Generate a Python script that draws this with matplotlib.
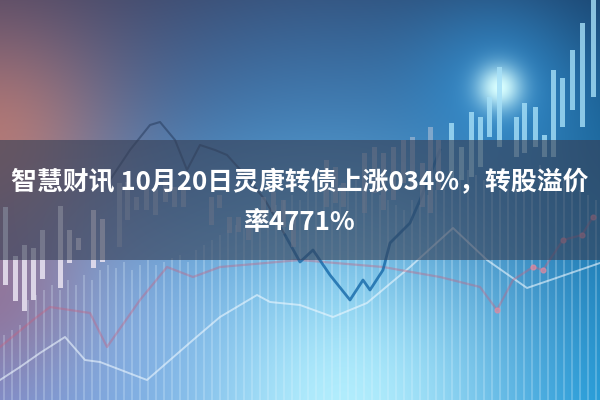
import numpy as np
import matplotlib
matplotlib.use("Agg")
import matplotlib.pyplot as plt
from matplotlib.patches import Rectangle

plt.rcParams['font.family'] = ['Noto Sans CJK SC', 'DejaVu Sans']

# titulo
TITLE_1 = "智慧财讯 10月20日灵康转债上涨034%，转股溢价"
TITLE_2 = "率4771%"

# velas: posicao x, topo, base (pixels, y para baixo)
left_x = [5, 15, 24, 33, 42, 60, 69, 78, 93, 102]
left_top = [207, 256, 245, 248, 230, 206, 230, 238, 210, 219]
left_bot = [285, 301, 311, 300, 279, 288, 263, 250, 268, 262]

mid_x = [119, 127, 136, 146, 155, 165, 174, 183, 211, 219, 229, 238, 248, 263, 273, 283, 293,
         326, 335, 343, 364, 374, 383, 393, 403, 412, 422, 430, 438]
mid_top = [183, 182, 197, 188, 190, 180, 187, 188, 197, 195, 217, 217, 220, 197, 192, 200, 213,
           160, 167, 183, 153, 147, 153, 147, 140, 137, 163, 127, 140]
mid_bot = [247, 220, 210, 210, 215, 202, 207, 207, 225, 208, 233, 232, 240, 223, 212, 227, 247,
           207, 203, 207, 213, 193, 210, 200, 183, 187, 207, 213, 190]

right_x = [451, 461, 471, 480, 489, 499, 516, 524, 535, 544, 553, 562, 572, 582, 593]
right_top = [123, 147, 112, 117, 97, 67, 117, 103, 107, 135, 70, 78, 50, 23, 0]
right_bot = [180, 180, 177, 167, 137, 147, 157, 153, 147, 157, 157, 127, 110, 127, 97]

# barras finas de fundo
stripe_x = list(range(4, 600, 8))
stripe_top = [335, 330, 325, 300, 295, 290, 285, 290, 280, 285, 275, 280, 270, 265, 268, 262,
              270, 265, 260, 265, 262, 258, 255, 262, 250, 245, 240, 235, 230, 225, 228, 220,
              215, 210, 205, 200, 195, 200, 190, 185, 190, 180, 185, 175, 180, 185, 190, 195,
              200, 205, 210, 200, 205, 195, 190, 185, 180, 175, 170, 175, 180, 185, 190, 185,
              180, 175, 170, 165, 170, 175, 180, 185, 190, 195, 200]

# linhas
mount_x = [110, 130, 150, 160, 175, 187, 200, 215, 227, 245, 265, 285]
mount_y = [180, 150, 125, 122, 140, 170, 145, 150, 155, 175, 200, 235]

w_x = [285, 300, 313, 330, 350, 363, 370, 383, 390, 410, 420, 440]
w_y = [235, 262, 250, 275, 300, 280, 290, 270, 243, 223, 200, 150]

white_x = [0, 20, 40, 65, 85, 100, 147, 193, 220, 257, 270, 300, 333, 367, 410, 453, 487, 527, 600]
white_y = [380, 367, 353, 337, 360, 362, 380, 340, 317, 295, 302, 305, 317, 303, 267, 228, 260, 288, 263]

red_x = [0, 33, 50, 90, 107, 140, 167, 193, 220, 300, 383, 440, 480, 497, 513, 533, 543, 563, 582, 593]
red_y = [347, 320, 307, 313, 347, 300, 267, 277, 267, 260, 267, 277, 287, 310, 280, 267, 270, 240, 235, 217]
red_dot_x = [497, 533, 543, 563, 582, 593]
red_dot_y = [310, 267, 270, 240, 235, 217]


def make_background(w=600, h=400):
    """
    Gradiente de fundo com manchas de luz
    """
    yy, xx = np.mgrid[0:h, 0:w]
    u = (xx / (w - 1))[..., None]
    v = (yy / (h - 1))[..., None]
    tl = np.array([0.31, 0.28, 0.40])
    tr = np.array([0.10, 0.27, 0.44])
    bl = np.array([0.48, 0.52, 0.78])
    br = np.array([0.06, 0.56, 0.82])
    img = (1 - u) * (1 - v) * tl + u * (1 - v) * tr + (1 - u) * v * bl + u * v * br

    def blob(img, cx, cy, r, color, strength):
        d = np.exp(-((xx - cx) ** 2 + (yy - cy) ** 2) / (2 * r ** 2))[..., None] * strength
        return img * (1 - d) + np.array(color) * d

    img = blob(img, 0, 150, 85, [0.76, 0.47, 0.42], 0.9)
    img = blob(img, 330, 140, 120, [0.22, 0.42, 0.64], 0.55)
    img = blob(img, 310, 300, 150, [0.26, 0.64, 0.90], 0.65)
    img = blob(img, 340, 410, 130, [0.72, 0.95, 1.0], 0.95)
    img = blob(img, 110, 330, 90, [0.60, 0.74, 0.94], 0.5)
    img = blob(img, 0, 300, 60, [0.60, 0.42, 0.55], 0.6)
    img = blob(img, 499, 87, 60, [0.20, 0.62, 0.90], 0.6)
    img = blob(img, 499, 87, 16, [0.85, 1.0, 1.0], 1.0)
    return np.clip(img, 0, 1)


fig = plt.figure(figsize=(6, 4), dpi=100)
ax = fig.add_axes([0, 0, 1, 1])
ax.imshow(make_background(), extent=[0, 600, 400, 0], aspect='auto', zorder=0)

# barras finas
stripe_h = [400 - t for t in stripe_top]
ax.bar(stripe_x, stripe_h, bottom=stripe_top, width=2.5, color="#e4f6ff", alpha=0.24, zorder=1)

# linhas
ax.plot(white_x, white_y, color="#eef8ff", alpha=0.6, lw=1.4, zorder=2)
ax.plot(red_x, red_y, color="#c8607e", alpha=0.4, lw=1.6, zorder=2)
ax.scatter(red_dot_x, red_dot_y, color="#e08aa0", s=12, alpha=0.7, zorder=2)
ax.plot(mount_x, mount_y, color="#1d3050", alpha=0.45, lw=1.5, zorder=2)
ax.plot(w_x, w_y, color="#1568a8", alpha=0.8, lw=2, zorder=2)

# velas
ax.bar(left_x, [b - t for t, b in zip(left_top, left_bot)], bottom=left_top, width=5,
       color="#eae4f2", alpha=0.85, zorder=3)
ax.bar(mid_x, [b - t for t, b in zip(mid_top, mid_bot)], bottom=mid_top, width=5,
       color="#b8c4d8", alpha=0.55, zorder=3)
ax.bar(right_x, [b - t for t, b in zip(right_top, right_bot)], bottom=right_top, width=5,
       color="#a6e0f8", alpha=0.8, zorder=3)

# faixa escura do titulo
ax.add_patch(Rectangle((0, 140), 600, 120, color="#363f55", alpha=0.62, lw=0, zorder=4))

ax.text(300, 183, TITLE_1, ha="center", va="center", color="white", fontsize=18.6,
        fontweight="bold", zorder=5)
ax.text(300, 222, TITLE_2, ha="center", va="center", color="white", fontsize=18.6,
        fontweight="bold", zorder=5)

ax.set_xlim(0, 600)
ax.set_ylim(400, 0)
ax.axis("off")

fig.savefig("out.png", dpi=100)
